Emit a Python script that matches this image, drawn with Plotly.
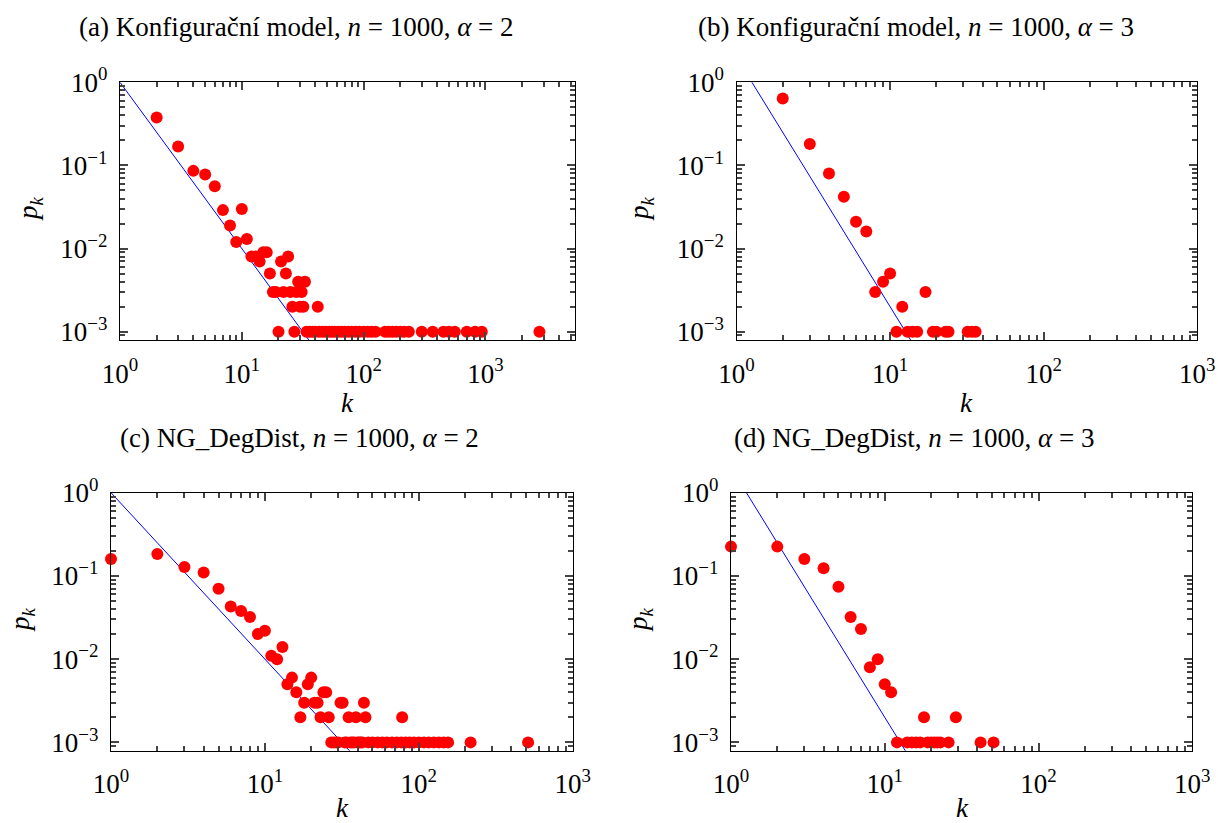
import plotly.graph_objects as go

W, H = 1218, 823

# ---- degree distributions (k, p_k) ----
a_k = [2, 3, 4, 5, 6, 7, 8, 9, 10, 11, 12, 13, 14, 15, 16, 17, 18, 19, 20, 21,
       22, 23, 24, 25, 26, 27, 28, 29, 30, 31, 32, 33, 42,
       34, 36, 38, 40, 43, 46, 49, 52, 55, 58, 62, 66, 70, 75, 80, 86, 92, 100,
       108, 116, 125, 150, 160, 172, 185, 200, 215, 235, 300, 369, 452, 500, 560,
       702, 822, 933, 2773]
a_p = [0.376, 0.169, 0.086, 0.078, 0.056, 0.029, 0.019, 0.012, 0.030, 0.013,
       0.008, 0.008, 0.007, 0.009, 0.009, 0.005, 0.003, 0.003, 0.001, 0.007,
       0.003, 0.005, 0.008, 0.003, 0.002, 0.001, 0.003, 0.004, 0.002, 0.003,
       0.002, 0.004, 0.002,
       0.001, 0.001, 0.001, 0.001, 0.001, 0.001, 0.001, 0.001, 0.001, 0.001,
       0.001, 0.001, 0.001, 0.001, 0.001, 0.001, 0.001, 0.001, 0.001, 0.001,
       0.001, 0.001, 0.001, 0.001, 0.001, 0.001, 0.001, 0.001, 0.001, 0.001,
       0.001, 0.001, 0.001, 0.001, 0.001, 0.001, 0.001]

b_k = [2, 3, 4, 5, 6, 7, 8, 9, 10, 11, 12, 13, 14, 15, 17, 19, 20, 23, 24, 32, 34, 36]
b_p = [0.64, 0.181, 0.080, 0.042, 0.021, 0.016, 0.003, 0.004, 0.005, 0.001,
       0.002, 0.001, 0.001, 0.001, 0.003, 0.001, 0.001, 0.001, 0.001, 0.001,
       0.001, 0.001]

c_k = [1, 2, 3, 4, 5, 6, 7, 8, 9, 10, 11, 12, 13, 14, 15, 16, 17, 18, 19, 20,
       21, 22, 23, 24, 25, 26, 31, 32, 35, 39, 44, 45, 78,
       27, 28, 29, 30, 33, 34, 36, 37, 38, 40, 41, 42, 43, 47, 50, 54, 58, 62,
       67, 72, 77, 82, 87, 93, 100, 108, 116, 125, 135, 145, 155, 217, 513]
c_p = [0.16, 0.184, 0.128, 0.11, 0.070, 0.043, 0.038, 0.032, 0.020, 0.022,
       0.011, 0.010, 0.014, 0.005, 0.006, 0.004, 0.002, 0.003, 0.005, 0.006,
       0.003, 0.003, 0.002, 0.004, 0.004, 0.002, 0.003, 0.003, 0.002, 0.002,
       0.003, 0.002, 0.002,
       0.001, 0.001, 0.001, 0.001, 0.001, 0.001, 0.001, 0.001, 0.001, 0.001,
       0.001, 0.001, 0.001, 0.001, 0.001, 0.001, 0.001, 0.001, 0.001, 0.001,
       0.001, 0.001, 0.001, 0.001, 0.001, 0.001, 0.001, 0.001, 0.001, 0.001,
       0.001, 0.001, 0.001]

d_k = [1, 2, 3, 4, 5, 6, 7, 8, 9, 10, 11, 12, 14, 15, 16, 17, 18, 19, 20, 21,
       22, 23, 26, 29, 42, 51]
d_p = [0.225, 0.225, 0.160, 0.124, 0.074, 0.032, 0.023, 0.008, 0.010, 0.005,
       0.004, 0.001, 0.001, 0.001, 0.001, 0.001, 0.002, 0.001, 0.001, 0.001,
       0.001, 0.001, 0.001, 0.002, 0.001, 0.001]

# power-law exponents of the reference lines p_k = (alpha-1) k^-alpha
alphas = [2, 3, 2, 3]
line_k = [1, 60]

titles = [
    "(a) Konfigurační model, <i>n</i> = 1000, <i>α</i> = 2",
    "(b) Konfigurační model, <i>n</i> = 1000, <i>α</i> = 3",
    "(c) NG_DegDist, <i>n</i> = 1000, <i>α</i> = 2",
    "(d) NG_DegDist, <i>n</i> = 1000, <i>α</i> = 3",
]

x_major = [1, 10, 100, 1000]
x_major_text = ["10<sup>0</sup>", "10<sup>1</sup>", "10<sup>2</sup>", "10<sup>3</sup>"]
y_major = [0.001, 0.01, 0.1, 1]
y_major_text = ["10<sup>−3</sup>", "10<sup>−2</sup>", "10<sup>−1</sup>", "10<sup>0</sup>"]

# ---- layout geometry (pixels) ----
boxes = [  # x0, x1, y0(top), y1(bottom)
    (120, 575, 82.3, 340),
    (736.5, 1197.3, 82.3, 340),
    (111, 572.7, 492.7, 750.7),
    (731, 1192.3, 492.7, 750.7),
]
x_ranges = [[0, 3.735], [0, 3], [0, 3], [0, 3]]
y_range = [-3.1, 0]

FONT = "Liberation Serif"
TXT = dict(family=FONT, size=27, color="black")
TICK = dict(family=FONT, size=27, color="black")
TICKCOL = "#444444"


def minor_vals(lo, hi):
    vals = []
    e = -4
    while 10 ** e <= hi:
        for m in range(2, 10):
            v = m * 10 ** e
            if lo <= v <= hi:
                vals.append(v)
        e += 1
    return vals


fig = go.Figure()
datasets = [(a_k, a_p), (b_k, b_p), (c_k, c_p), (d_k, d_p)]

for i, ((ks, ps), alpha) in enumerate(zip(datasets, alphas)):
    sfx = "" if i == 0 else str(i + 1)
    msfx = str(i + 5)  # overlay axes carrying the minor ticks
    xa, ya = "x" + sfx, "y" + sfx
    lp = [(alpha - 1) * k ** (-alpha) for k in line_k]
    fig.add_trace(go.Scatter(x=line_k, y=lp, mode="lines", xaxis=xa, yaxis=ya,
                             line=dict(color="#0000ff", width=1), showlegend=False,
                             hoverinfo="skip"))
    fig.add_trace(go.Scatter(x=ks, y=ps, mode="markers", xaxis=xa, yaxis=ya,
                             marker=dict(color="#ff0000", size=12, line=dict(width=0)),
                             cliponaxis=False, showlegend=False))
    fig.add_trace(go.Scatter(x=[], y=[], mode="markers", xaxis="x" + msfx,
                             yaxis="y" + msfx, showlegend=False, hoverinfo="skip"))

    x0, x1, y0, y1 = boxes[i]
    xr = x_ranges[i]
    xdom = [x0 / W, x1 / W]
    ydom = [1 - y1 / H, 1 - y0 / H]
    common = dict(type="log", showgrid=False, zeroline=False, showline=True,
                  linecolor="black", linewidth=1.3, mirror="allticks", ticks="inside",
                  tickwidth=1.5, tickcolor=TICKCOL, automargin=False, tickfont=TICK)
    xaxis = dict(common, domain=xdom, range=xr, anchor=ya, ticklen=8,
                 tickmode="array", tickvals=x_major, ticktext=x_major_text,
                 ticklabelstandoff=9)
    yaxis = dict(common, domain=ydom, range=y_range, anchor=xa, ticklen=8,
                 tickmode="array", tickvals=y_major, ticktext=y_major_text,
                 ticklabelstandoff=6)
    xminor = dict(common, domain=xdom, range=xr, anchor="y" + msfx, overlaying=xa,
                  ticklen=5, tickmode="array",
                  tickvals=minor_vals(10 ** xr[0], 10 ** xr[1]), showticklabels=False)
    yminor = dict(common, domain=ydom, range=y_range, anchor="x" + msfx, overlaying=ya,
                  ticklen=5, tickmode="array",
                  tickvals=minor_vals(10 ** y_range[0], 10 ** y_range[1]),
                  showticklabels=False)
    fig.update_layout({"xaxis" + sfx: xaxis, "yaxis" + sfx: yaxis,
                       "xaxis" + msfx: xminor, "yaxis" + msfx: yminor})

# ---- text: panel captions and axis titles ----
title_pos = [(296, 27), (916, 27), (299, 438), (914, 438)]
ylab_pos = [(30, 209), (641, 209), (22, 620), (640, 620)]
xlab_pos = [(347, 403), (966, 403), (342, 808), (962, 808)]

ann = []
for i in range(4):
    tx, ty = title_pos[i]
    ann.append(dict(text=titles[i], x=tx / W, y=1 - ty / H, xref="paper", yref="paper",
                    xanchor="center", yanchor="middle", showarrow=False, font=TXT))
    lx, ly = ylab_pos[i]
    ann.append(dict(text="<i>p</i><sub><i>k</i></sub>", x=lx / W, y=1 - ly / H,
                    xref="paper", yref="paper", xanchor="center", yanchor="middle",
                    showarrow=False, textangle=-90, font=TXT))
    kx, ky = xlab_pos[i]
    ann.append(dict(text="<i>k</i>", x=kx / W, y=1 - ky / H, xref="paper", yref="paper",
                    xanchor="center", yanchor="middle", showarrow=False, font=TXT))

fig.update_layout(template="none", width=W, height=H,
                  margin=dict(l=0, r=0, t=0, b=0, autoexpand=False),
                  paper_bgcolor="white", plot_bgcolor="white", annotations=ann,
                  font=TXT)

fig.write_html("out.html")
